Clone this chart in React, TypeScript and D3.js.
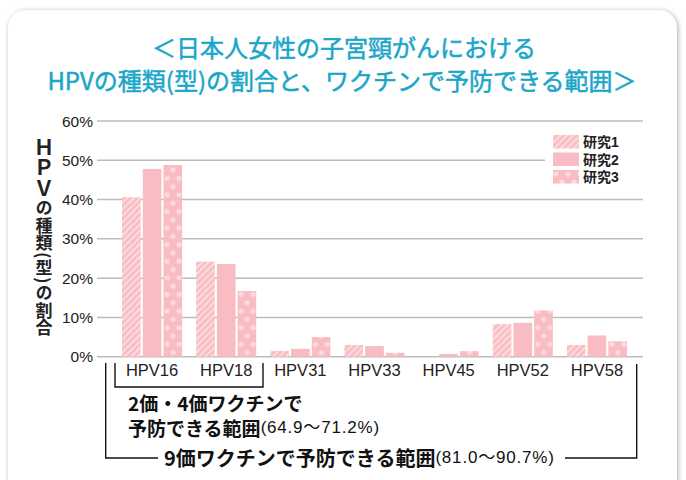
import * as d3 from 'd3';

const categories = ['HPV16', 'HPV18', 'HPV31', 'HPV33', 'HPV45', 'HPV52', 'HPV58'];
const seriesNames = ['研究1', '研究2', '研究3'];
const study1 = [40.6, 24.2, 1.5, 3.0, 0, 8.3, 3.0];
const study2 = [47.8, 23.6, 2.0, 2.7, 0.7, 8.6, 5.4];
const study3 = [48.8, 16.7, 5.0, 1.0, 1.4, 11.8, 3.9];
const yTicks = [0, 10, 20, 30, 40, 50, 60];

const PINK = '#f9bcc2';
const LIGHT = '#fcdadd';
const TEAL = '#1aa6c8';
const LATIN = '"Liberation Sans", "Noto Sans CJK JP", sans-serif';
const JP = '"Noto Sans CJK JP", "Liberation Sans", sans-serif';

const fills = ['url(#stripe)', PINK, 'url(#dots)'];
const seriesValues = [study1, study2, study3];

export default function App() {
  const width = 686;
  const height = 480;
  const gridLeft = 97;
  const gridRight = 643;

  const y = d3.scaleLinear().domain([0, 60]).range([356.7, 121]);
  const x = d3
    .scaleBand<string>()
    .domain(categories)
    .range([115, 634])
    .paddingInner(0.19)
    .paddingOuter(0.095);
  const xs = d3
    .scaleBand<string>()
    .domain(seriesNames)
    .range([0, x.bandwidth()])
    .paddingInner(0.1);

  const labelY = 370;

  return (
    <svg
      width={width}
      height={height}
      style={{ position: 'absolute', left: 0, top: 0, background: '#fff' }}
    >
      <defs>
        <filter id="shadow" x="-5%" y="-5%" width="110%" height="110%">
          <feDropShadow dx="1" dy="1" stdDeviation="2.8" floodColor="#7a7a7a" floodOpacity="0.65" />
        </filter>
        <pattern id="stripe" width="4.6" height="4.6" patternUnits="userSpaceOnUse" patternTransform="rotate(45)">
          <rect width="4.6" height="4.6" fill={PINK} />
          <rect width="2.1" height="4.6" fill={LIGHT} />
        </pattern>
        <pattern id="dots" width="12" height="16.6" patternUnits="userSpaceOnUse">
          <rect width="12" height="16.6" fill={PINK} />
          <circle cx="3" cy="4" r="2.6" fill={LIGHT} />
          <circle cx="9" cy="12.3" r="2.6" fill={LIGHT} />
        </pattern>
      </defs>

      {/* card */}
      <rect x={8} y={10} width={669} height={520} rx={18} fill="#fff" filter="url(#shadow)" />

      {/* title */}
      <g
        fill={TEAL}
        stroke={TEAL}
        strokeWidth={0.5}
        fontFamily={JP}
        fontWeight={400}
        fontSize={24}
        textAnchor="middle"
      >
        <text x={344} y={46} dominantBaseline="central">＜日本人女性の子宮頸がんにおける</text>
        <text x={342} y={79} dominantBaseline="central">HPVの種類(型)の割合と、ワクチンで予防できる範囲＞</text>
      </g>

      {/* grid + y ticks */}
      {yTicks.map((t) => (
        <g key={t}>
          <line x1={gridLeft} x2={gridRight} y1={y(t)} y2={y(t)} stroke="#bdbdbd" strokeWidth={1.5} />
          <text
            x={93}
            y={y(t)}
            textAnchor="end"
            dominantBaseline="central"
            fontFamily={LATIN}
            fontSize={15.5}
            fill="#222"
          >
            {t}%
          </text>
        </g>
      ))}

      {/* y label */}
      <text
        x={44}
        y={137}
        fontFamily={JP}
        fontWeight={700}
        fontSize={17}
        fill="#222"
        style={{ writingMode: 'vertical-rl' }}
      >
        <tspan fontSize={20.5}>ＨＰＶ</tspan>
        <tspan letterSpacing={0.7}>の種類(型)の割合</tspan>
      </text>

      {/* bars */}
      {categories.map((c, i) => (
        <g key={c} transform={`translate(${x(c)},0)`}>
          {seriesNames.map((s, j) => {
            const v = seriesValues[j][i];
            if (!v) return null;
            return (
              <rect
                key={s}
                x={xs(s)}
                y={y(v)}
                width={xs.bandwidth()}
                height={y(0) - y(v)}
                fill={fills[j]}
              />
            );
          })}
        </g>
      ))}

      {/* x labels */}
      {categories.map((c) => (
        <text
          key={c}
          x={(x(c) ?? 0) + x.bandwidth() / 2}
          y={labelY}
          textAnchor="middle"
          dominantBaseline="central"
          fontFamily={LATIN}
          fontSize={16.5}
          fill="#222"
        >
          {c}
        </text>
      ))}

      {/* legend */}
      <rect x={545} y={128} width={98} height={62} fill="#fff" />
      {seriesNames.map((s, j) => (
        <g key={s} transform={`translate(553,${135 + j * 17.5})`}>
          <rect width={26} height={13.5} fill={fills[j]} />
          <text
            x={30}
            y={7}
            dominantBaseline="central"
            fontFamily={LATIN}
            fontWeight={700}
            fontSize={14}
            fill="#222"
          >
            {s}
          </text>
        </g>
      ))}

      {/* brackets */}
      <g stroke="#111" strokeWidth={1.4} fill="none">
        <polyline points="115,363 115,387 263,387 263,363" />
        <polyline points="105.7,363 105.7,458 158,458" />
        <polyline points="565,458 636.7,458 636.7,364" />
      </g>

      {/* annotations */}
      <g fill="#111" fontFamily={JP}>
        <text x={128} y={402} dominantBaseline="central" fontSize={19} fontWeight={700}>
          2価・4価ワクチンで
        </text>
        <text x={128} y={427} dominantBaseline="central" fontSize={19} fontWeight={700}>
          予防できる範囲
          <tspan fontSize={17} fontWeight={400} fontFamily={LATIN} letterSpacing={0.8}>(64.9〜71.2%)</tspan>
        </text>
        <text x={164} y={457} dominantBaseline="central" fontSize={20} fontWeight={700}>
          9価ワクチンで予防できる範囲
          <tspan fontSize={17} fontWeight={400} fontFamily={LATIN} letterSpacing={0.8}>(81.0〜90.7%)</tspan>
        </text>
      </g>
    </svg>
  );
}
